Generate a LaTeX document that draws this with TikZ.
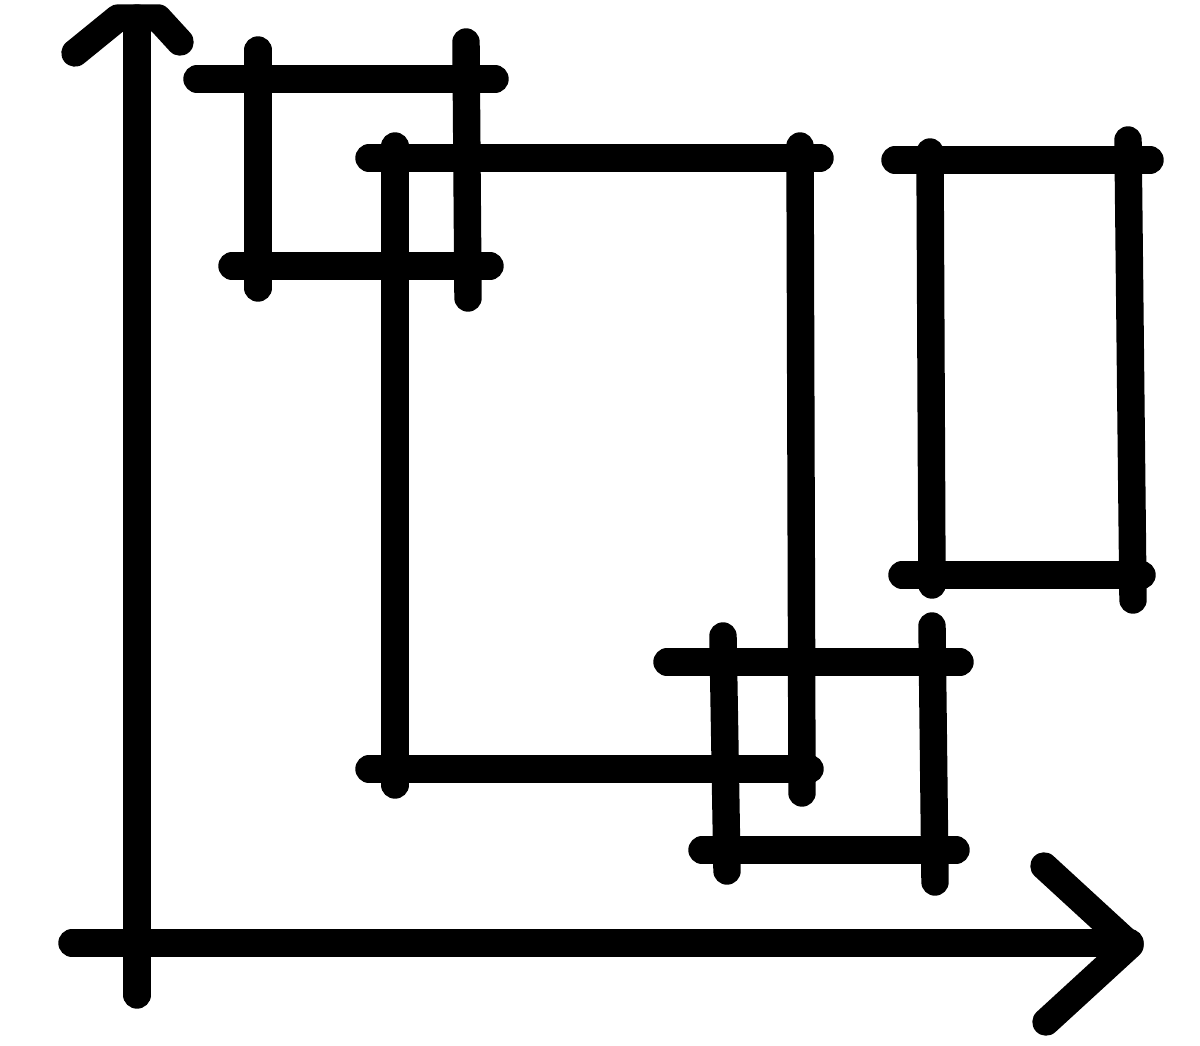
\documentclass[tikz,border=0pt]{standalone}
\begin{document}
\begin{tikzpicture}[x=0.01cm,y=-0.01cm,
  stroke/.style={line width=7.8pt,line cap=round,line join=round,black}]
\useasboundingbox (0,0) rectangle (1200,1046);
% axes
\draw[stroke] (137,995) -- (137,18);
\draw[stroke] (75,53) -- (118,18) -- (158,18) -- (180,42);
\draw[stroke] (72,943) -- (1130,943);
\draw[stroke] (1044,866) -- (1130,945) -- (1046,1022);
% rect 1
\draw[stroke] (197,79) -- (495,79);
\draw[stroke] (232,266) -- (490,266);
\draw[stroke] (258,50) -- (258,288);
\draw[stroke] (466,42) -- (468,298);
% rect 2
\draw[stroke] (369,158) -- (820,158);
\draw[stroke] (369,769) -- (810,769);
\draw[stroke] (395,146) -- (395,785);
\draw[stroke] (800,146) -- (802,793);
% rect 3
\draw[stroke] (895,160) -- (1150,160);
\draw[stroke] (902,575) -- (1142,575);
\draw[stroke] (930,152) -- (932,585);
\draw[stroke] (1128,140) -- (1133,600);
% rect 4
\draw[stroke] (667,662) -- (960,662);
\draw[stroke] (702,850) -- (956,850);
\draw[stroke] (723,636) -- (727,871);
\draw[stroke] (932,626) -- (935,882);
\end{tikzpicture}
\end{document}
